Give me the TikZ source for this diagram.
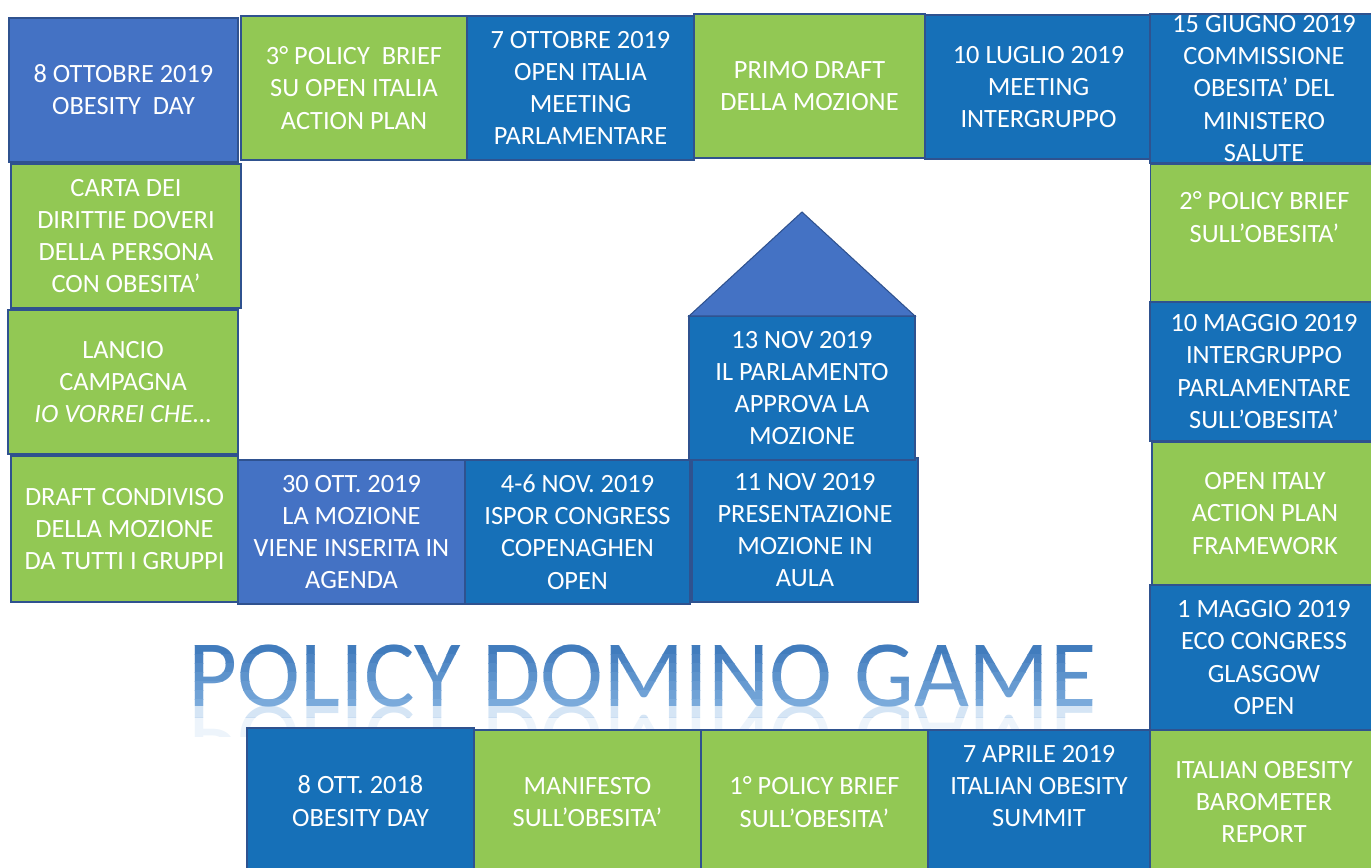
\documentclass[tikz,border=0pt]{standalone}
\usepackage{fontspec}
\setmainfont{Carlito}
\definecolor{tilegreen}{RGB}{146,200,84}
\definecolor{tileblue}{RGB}{22,112,184}
\definecolor{tilepale}{RGB}{68,114,196}
\definecolor{tileedge}{RGB}{47,82,143}
\definecolor{titletop}{RGB}{56,116,184}
\definecolor{titlebottom}{RGB}{134,180,226}
\tikzset{
  tile/.style={draw=tileedge, line width=0.8pt, text=white, align=center,
    inner sep=0pt, outer sep=0pt, font=\fontsize{15}{18.3}\selectfont,
    minimum width=4.54cm, minimum height=2.88cm},
  tilesize/.style 2 args={minimum width=#1*0.02cm, minimum height=#2*0.02cm},
  green tile/.style={tile, fill=tilegreen},
  blue tile/.style={tile, fill=tileblue},
  pale tile/.style={tile, fill=tilepale},
  roof/.style={fill=tilepale, draw=tileedge, line width=0.6pt},
  headline/.style={font=\fontsize{54}{54}\selectfont, inner sep=0pt, anchor=base}
}
\begin{document}
\begin{tikzpicture}[x=0.02cm, y=-0.02cm]
\useasboundingbox (0,0) rectangle (1371,867);

\node[pale tile, tilesize={229}{144}] (obday19) at (123.5,90) {8 OTTOBRE 2019\\OBESITY\ \ DAY};
\node[green tile, tilesize={226}{144}] (brief3) at (354,88) {3° POLICY\ \ BRIEF\\SU OPEN ITALIA\\ACTION PLAN};
\node[blue tile] (openmeet) at (580.5,88) {7 OTTOBRE 2019\\OPEN ITALIA\\MEETING\\PARLAMENTARE};
\node[green tile, tilesize={231}{144}] (draft1) at (809.5,86) {PRIMO DRAFT\\DELLA MOZIONE};
\node[blue tile] (luglio) at (1038.5,87) {10 LUGLIO 2019\\MEETING\\INTERGRUPPO};
\node[blue tile, tilesize={228}{149}] (giugno) at (1264,88.5) {15 GIUGNO 2019\\COMMISSIONE\\OBESITA’ DEL\\MINISTERO\\SALUTE};

\node[green tile, tilesize={228}{138}, text depth=0.64cm] (brief2) at (1264.5,233) {2° POLICY BRIEF\\SULL’OBESITA’};
\node[blue tile, tilesize={228}{139}] (maggio10) at (1264,371.5) {10 MAGGIO 2019\\INTERGRUPPO\\PARLAMENTARE\\SULL’OBESITA’};
\node[green tile, tilesize={226}{143}] (framework) at (1265,513.5) {OPEN ITALY\\ACTION PLAN\\FRAMEWORK};
\node[blue tile, tilesize={228}{145}] (eco) at (1264,657.5) {1 MAGGIO 2019\\ECO CONGRESS\\GLASGOW\\OPEN};
\node[green tile, tilesize={228}{144}] (barometer) at (1264,802) {ITALIAN OBESITY\\BAROMETER\\REPORT};

\node[green tile, tilesize={230}{144}] (carta) at (126,236) {CARTA DEI\\DIRITTIE DOVERI\\DELLA PERSONA\\CON OBESITA’};
\node[green tile, tilesize={230}{144}] (lancio) at (123,382) {LANCIO\\CAMPAGNA\\\textit{IO VORREI CHE…}};
\node[green tile, tilesize={227}{146}] (condiviso) at (124.5,529) {DRAFT CONDIVISO\\DELLA MOZIONE\\DA TUTTI I GRUPPI};
\node[pale tile] (agenda) at (351.5,532) {30 OTT. 2019\\LA MOZIONE\\VIENE INSERITA IN\\AGENDA};
\node[blue tile, tilesize={225}{144}] (ispor) at (577.5,532) {4-6 NOV. 2019\\ISPOR CONGRESS\\COPENAGHEN\\OPEN};
\node[blue tile, tilesize={226}{144}] (aula) at (805,530) {11 NOV 2019\\PRESENTAZIONE\\MOZIONE IN\\AULA};
\node[blue tile, tilesize={226}{144}] (approva) at (802,388) {13 NOV 2019\\IL PARLAMENTO\\APPROVA LA\\MOZIONE};
\coordinate (apex) at (802,212);
\draw[roof] (approva.north west) -- (apex) -- (approva.north east) -- cycle;

% title, shaded in bands, then its reflection
\foreach \i in {0,...,8} {
  \pgfmathtruncatemacro\mix{100-\i*12}
  \begin{scope}
    \clip (0,636+\i*9) rectangle (1371,645+\i*9);
    \node[headline, text=titletop!\mix!titlebottom] (title\i) at (642.5,706) {POLICY DOMINO GAME};
  \end{scope}
}
\begin{scope}
  \clip (0,706) rectangle (1371,717);
  \begin{scope}[shift={(642.5,706)}, yscale=-1]
    \node[headline, transform shape, text=titlebottom, opacity=0.35, text opacity=0.35] (mirror) at (0,0) {POLICY DOMINO GAME};
  \end{scope}
\end{scope}
\begin{scope}
  \clip (0,717) rectangle (1371,736);
  \begin{scope}[shift={(642.5,706)}, yscale=-1]
    \node[headline, transform shape, text=titlebottom, opacity=0.15, text opacity=0.15] (fade) at (0,0) {POLICY DOMINO GAME};
  \end{scope}
\end{scope}

\node[blue tile, tilesize={227}{146}] (obday18) at (360.5,801) {8 OTT. 2018\\OBESITY DAY};
\node[green tile] (manifesto) at (587.5,802) {MANIFESTO\\SULL’OBESITA’};
\node[green tile] (brief1) at (814.5,802) {1° POLICY BRIEF\\SULL’OBESITA’};
\node[blue tile, tilesize={222}{144}, text depth=0.64cm] (summit) at (1039,802) {7 APRILE 2019\\ITALIAN OBESITY\\SUMMIT};
\end{tikzpicture}
\end{document}
